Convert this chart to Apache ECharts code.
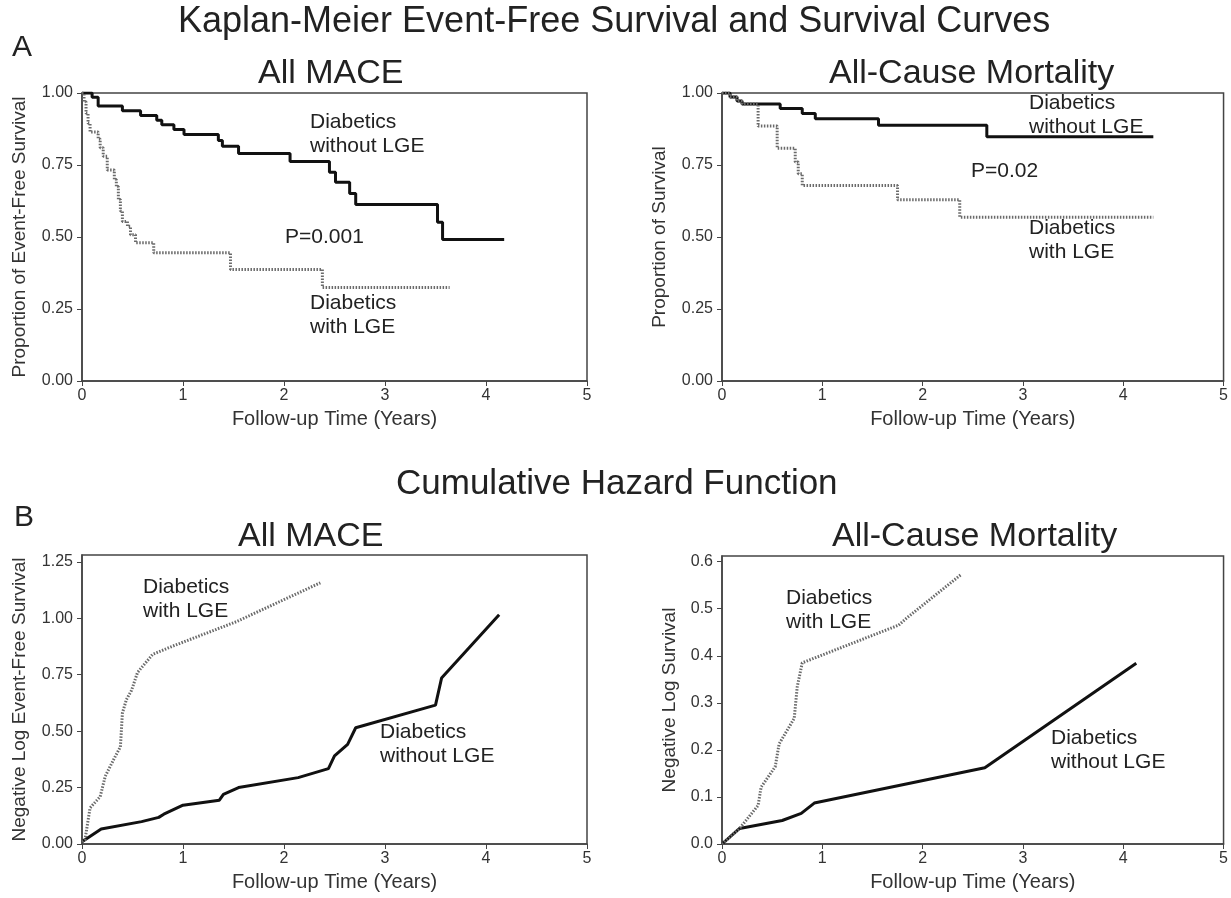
<!DOCTYPE html>
<html>
<head>
<meta charset="utf-8">
<script src="https://cdn.jsdelivr.net/npm/echarts@6/dist/echarts.min.js"></script>
<style>
  html, body { margin: 0; padding: 0; background: #fff; }
  #main { width: 1231px; height: 898px; }
</style>
</head>
<body>
<div id="main"></div>
<script>
// Kaplan-Meier, All MACE
const kmMaceNoLgeT = [0, 0.10, 0.16, 0.40, 0.58, 0.74, 0.79, 0.91, 1.01, 1.35, 1.39, 1.55, 2.06, 2.45, 2.51, 2.65, 2.71, 3.52, 3.57, 4.18];
const kmMaceNoLgeS = [1.00, 0.985, 0.955, 0.938, 0.922, 0.905, 0.89, 0.873, 0.856, 0.835, 0.815, 0.79, 0.762, 0.725, 0.69, 0.651, 0.613, 0.551, 0.491, 0.491];
const kmMaceLgeT = [0, 0.02, 0.04, 0.06, 0.08, 0.16, 0.18, 0.21, 0.25, 0.32, 0.34, 0.36, 0.38, 0.40, 0.45, 0.48, 0.53, 0.71, 1.47, 2.38, 3.64];
const kmMaceLgeS = [1.00, 0.97, 0.93, 0.895, 0.865, 0.84, 0.81, 0.78, 0.733, 0.70, 0.675, 0.63, 0.59, 0.554, 0.537, 0.508, 0.48, 0.445, 0.387, 0.325, 0.325];

// Kaplan-Meier, All-Cause Mortality
const kmMortNoLgeT = [0, 0.08, 0.15, 0.20, 0.58, 0.80, 0.93, 1.56, 2.64, 4.30];
const kmMortNoLgeS = [1.00, 0.986, 0.972, 0.962, 0.946, 0.929, 0.911, 0.888, 0.848, 0.848];
const kmMortLgeT = [0, 0.08, 0.15, 0.20, 0.36, 0.55, 0.73, 0.76, 0.80, 1.75, 2.37, 4.30];
const kmMortLgeS = [1.00, 0.986, 0.972, 0.962, 0.885, 0.808, 0.76, 0.72, 0.679, 0.629, 0.569, 0.569];

// Cumulative hazard, All MACE
const hzMaceNoLgeT = [0, 0.19, 0.59, 0.76, 0.81, 1.00, 1.36, 1.40, 1.55, 2.14, 2.44, 2.50, 2.63, 2.71, 3.50, 3.56, 4.13];
const hzMaceNoLgeH = [0.01, 0.066, 0.099, 0.118, 0.132, 0.172, 0.194, 0.22, 0.25, 0.294, 0.334, 0.39, 0.441, 0.515, 0.615, 0.735, 1.015];
const hzMaceLgeT = [0, 0.03, 0.08, 0.18, 0.23, 0.32, 0.38, 0.40, 0.44, 0.49, 0.55, 0.70, 0.89, 1.53, 2.36];
const hzMaceLgeH = [0.01, 0.02, 0.16, 0.21, 0.30, 0.38, 0.43, 0.58, 0.64, 0.68, 0.76, 0.84, 0.875, 0.985, 1.157];

// Cumulative hazard, All-Cause Mortality
const hzMortNoLgeT = [0, 0.175, 0.60, 0.79, 0.92, 2.62, 4.13];
const hzMortNoLgeH = [0, 0.033, 0.050, 0.065, 0.087, 0.162, 0.384];
const hzMortLgeT = [0, 0.175, 0.36, 0.39, 0.53, 0.57, 0.72, 0.75, 0.80, 1.76, 1.84, 2.38];
const hzMortLgeH = [0, 0.033, 0.082, 0.121, 0.164, 0.213, 0.267, 0.334, 0.385, 0.465, 0.48, 0.572];

const kmTicks = [0, 0.25, 0.5, 0.75, 1.0];
const hzMaceTicks = [0, 0.25, 0.5, 0.75, 1.0, 1.25];
const hzMortTicks = [0, 0.1, 0.2, 0.3, 0.4, 0.5, 0.6];

const FONT = '"Liberation Sans", Arial, sans-serif';
const zip = (a, b) => a.map((v, i) => [v, b[i]]);

const solid = { color: '#111', width: 3 };
const dotted = { color: '#6a6a6a', width: 3, type: [1.5, 1.5] };

function xAx(gi) {
  return {
    gridIndex: gi, type: 'value', min: 0, max: 5, interval: 1,
    name: 'Follow-up Time (Years)', nameLocation: 'middle', nameGap: 28,
    nameTextStyle: { fontFamily: FONT, fontSize: 20, color: '#333' },
    axisLine: { lineStyle: { color: '#444', width: 1.5 } },
    axisTick: { show: true, length: 5, lineStyle: { color: '#444' } },
    axisLabel: { fontFamily: FONT, fontSize: 16, color: '#333', margin: 7 },
    splitLine: { show: false }
  };
}
function yAx(gi, name, max, ticks, dec, gap) {
  return {
    gridIndex: gi, type: 'value', min: 0, max: max,
    name: name, nameLocation: 'middle', nameGap: gap,
    nameTextStyle: { fontFamily: FONT, fontSize: 19, color: '#333' },
    axisLine: { show: true, lineStyle: { color: '#444', width: 1.5 } },
    axisTick: { show: true, length: 5, customValues: ticks, lineStyle: { color: '#444' } },
    axisLabel: { fontFamily: FONT, fontSize: 16, color: '#333', margin: 9, customValues: ticks,
      formatter: v => v.toFixed(dec) },
    splitLine: { show: false }
  };
}
function ln(gi, data, style, step) {
  return {
    type: 'line', xAxisIndex: gi, yAxisIndex: gi, data: data,
    step: step ? 'end' : false, showSymbol: false, symbol: 'none',
    lineStyle: style, silent: true, animation: false
  };
}
function txt(x, y, s, size) {
  return { type: 'text', left: x, top: y,
    style: { text: s, font: size + 'px ' + FONT, fill: '#222', lineHeight: Math.round(size * 1.15) } };
}

const chart = echarts.init(document.getElementById('main'));
const gridBase = { show: true, borderColor: '#444', borderWidth: 1.5, backgroundColor: '#fff' };

chart.setOption({
  animation: false,
  grid: [
    Object.assign({ left: 82, top: 93, width: 505, height: 288 }, gridBase),
    Object.assign({ left: 722, top: 93, width: 505, height: 288 }, gridBase),
    Object.assign({ left: 82, top: 555, width: 505, height: 289 }, gridBase),
    Object.assign({ left: 722, top: 556, width: 505, height: 288 }, gridBase)
  ],
  xAxis: [xAx(0), xAx(1), xAx(2), xAx(3)],
  yAxis: [
    yAx(0, 'Proportion of Event-Free Survival', 1.0, kmTicks, 2, 53),
    yAx(1, 'Proportion of Survival', 1.0, kmTicks, 2, 53),
    yAx(2, 'Negative Log Event-Free Survival', 1.28, hzMaceTicks, 2, 53),
    yAx(3, 'Negative Log Survival', 0.612, hzMortTicks, 1, 43)
  ],
  series: [
    ln(0, zip(kmMaceNoLgeT, kmMaceNoLgeS), solid, true),
    ln(0, zip(kmMaceLgeT, kmMaceLgeS), dotted, true),
    ln(1, zip(kmMortNoLgeT, kmMortNoLgeS), solid, true),
    ln(1, zip(kmMortLgeT, kmMortLgeS), dotted, true),
    ln(2, zip(hzMaceNoLgeT, hzMaceNoLgeH), solid, false),
    ln(2, zip(hzMaceLgeT, hzMaceLgeH), dotted, false),
    ln(3, zip(hzMortNoLgeT, hzMortNoLgeH), solid, false),
    ln(3, zip(hzMortLgeT, hzMortLgeH), dotted, false)
  ],
  graphic: [
    txt(178, 2, 'Kaplan-Meier Event-Free Survival and Survival Curves', 36),
    txt(12, 30, 'A', 30),
    txt(258, 54, 'All MACE', 34),
    txt(829, 54, 'All-Cause Mortality', 34),
    txt(396, 464, 'Cumulative Hazard Function', 35),
    txt(14, 500, 'B', 30),
    txt(238, 517, 'All MACE', 34),
    txt(832, 517, 'All-Cause Mortality', 34),

    txt(310, 110, 'Diabetics\nwithout LGE', 21),
    txt(285, 225, 'P=0.001', 21),
    txt(310, 291, 'Diabetics\nwith LGE', 21),

    txt(1029, 91, 'Diabetics\nwithout LGE', 21),
    txt(971, 159, 'P=0.02', 21),
    txt(1029, 216, 'Diabetics\nwith LGE', 21),

    txt(143, 575, 'Diabetics\nwith LGE', 21),
    txt(380, 720, 'Diabetics\nwithout LGE', 21),

    txt(786, 586, 'Diabetics\nwith LGE', 21),
    txt(1051, 726, 'Diabetics\nwithout LGE', 21)
  ]
});
</script>
</body>
</html>
